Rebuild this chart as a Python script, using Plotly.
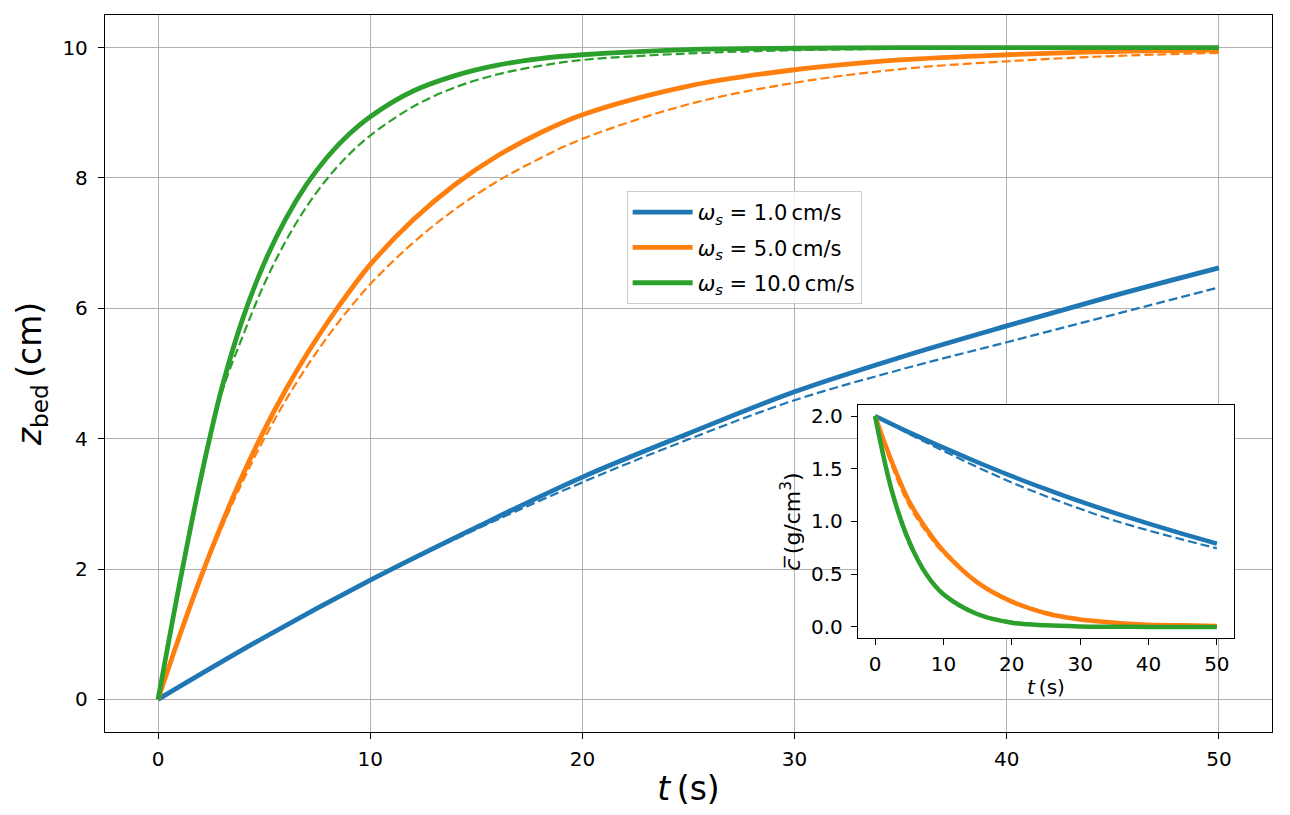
import plotly.graph_objects as go

# ---------------- data ----------------
speeds = [1.0, 5.0, 10.0]
colors = ["#1f77b4", "#ff7f0e", "#2ca02c"]

# main panel: bed height z_bed (cm) vs t (s)
t_blue = [0, 5, 10, 15, 20, 25, 30, 35, 40, 45, 50]
z_blue_solid = [0, 0.95, 1.83, 2.64, 3.41, 4.08, 4.72, 5.25, 5.73, 6.19, 6.62]
z_blue_dash = [0, 0.95, 1.82, 2.61, 3.33, 3.99, 4.59, 5.06, 5.48, 5.9, 6.32]

t_fast = [0, 1, 2, 3, 4, 5, 6, 7, 8, 9, 10, 12, 14, 16, 18, 20, 25, 30, 35, 40, 45, 50]
z_orange_solid = [0, 0.96, 1.86, 2.69, 3.45, 4.13, 4.74, 5.29, 5.79, 6.25, 6.67, 7.35, 7.9,
                  8.34, 8.69, 8.97, 9.41, 9.66, 9.81, 9.89, 9.94, 9.96]
z_orange_dash = [0, 0.95, 1.83, 2.63, 3.35, 4.0, 4.58, 5.1, 5.57, 5.99, 6.37, 7.0, 7.52,
                 7.95, 8.3, 8.6, 9.13, 9.46, 9.67, 9.79, 9.87, 9.92]
z_green_solid = [0, 1.75, 3.37, 4.77, 5.85, 6.69, 7.36, 7.9, 8.33, 8.67, 8.94, 9.33, 9.57,
                 9.73, 9.83, 9.89, 9.97, 9.99, 10.0, 10.0, 10.0, 10.0]
z_green_dash = [0, 1.72, 3.37, 4.7, 5.58, 6.37, 7.02, 7.56, 8.0, 8.36, 8.65, 9.09, 9.39,
                9.59, 9.72, 9.81, 9.91, 9.96, 9.98, 9.99, 10.0, 10.0]

# inset: mean concentration c (g/cm^3) vs t (s)
t_in = [0, 2.5, 5, 7.5, 10, 15, 20, 25, 30, 35, 40, 45, 50]
t_in_blue = [0, 5, 10, 15, 20, 25, 30, 35, 40, 45, 50]
c_blue_solid = [2.0, 1.845, 1.70, 1.562, 1.43, 1.307, 1.19, 1.082, 0.98, 0.883, 0.79]
c_blue_dash = [2.0, 1.83, 1.67, 1.515, 1.37, 1.24, 1.12, 1.01, 0.915, 0.828, 0.745]
c_orange_solid = [2.0, 1.56, 1.19, 0.93, 0.72, 0.42, 0.24, 0.13, 0.07, 0.04, 0.02, 0.015, 0.01]
c_orange_dash = [2.0, 1.52, 1.15, 0.9, 0.70, 0.42, 0.25, 0.14, 0.08, 0.045, 0.025, 0.015, 0.01]
c_green_solid = [2.0, 1.28, 0.81, 0.5, 0.31, 0.12, 0.04, 0.015, 0.005, 0.002, 0.0, 0.0, 0.0]
c_green_dash = [2.0, 1.26, 0.78, 0.5, 0.32, 0.13, 0.05, 0.02, 0.008, 0.003, 0.001, 0.0, 0.0]

x_ticks = [0, 10, 20, 30, 40, 50]
y_ticks = [0, 2, 4, 6, 8, 10]
inset_y_ticks = [0.0, 0.5, 1.0, 1.5, 2.0]

main_sets = [
    (t_blue, z_blue_solid, z_blue_dash),
    (t_fast, z_orange_solid, z_orange_dash),
    (t_fast, z_green_solid, z_green_dash),
]
inset_sets = [
    (t_in_blue, c_blue_solid, c_blue_dash),
    (t_in, c_orange_solid, c_orange_dash),
    (t_in, c_green_solid, c_green_dash),
]

FONT = "DejaVu Sans"
THIN = "\u2009"
fig = go.Figure()

for i, (ws, col, (tt, zs, zd)) in enumerate(zip(speeds, colors, main_sets)):
    fig.add_trace(go.Scatter(
        x=tt, y=zs, mode="lines", line=dict(color=col, width=4.8, shape="spline"),
        name=f"<i>ω</i><sub><i>s</i></sub> = {ws:.1f}{THIN}cm/s", showlegend=True,
        legendgroup=f"g{i}", xaxis="x", yaxis="y"))
    fig.add_trace(go.Scatter(
        x=tt, y=zd, mode="lines", line=dict(color=col, width=2.2, dash="9px,4px", shape="spline"),
        showlegend=False, legendgroup=f"g{i}", xaxis="x", yaxis="y"))

for col, (tt, cs, cd) in zip(colors, inset_sets):
    fig.add_trace(go.Scatter(
        x=tt, y=cs, mode="lines", line=dict(color=col, width=4.5, shape="spline"),
        showlegend=False, xaxis="x2", yaxis="y2"))
    fig.add_trace(go.Scatter(
        x=tt, y=cd, mode="lines", line=dict(color=col, width=2.2, dash="9px,4px", shape="spline"),
        showlegend=False, xaxis="x2", yaxis="y2"))

axis_common = dict(showline=True, linecolor="black", linewidth=1.3, mirror=True,
                   ticks="outside", ticklen=6, tickwidth=1.3, tickcolor="black",
                   zeroline=False, tickfont=dict(family=FONT, size=20, color="black"))

fig.update_layout(
    width=1290, height=815,
    margin=dict(l=105, r=18, t=15, b=83),
    paper_bgcolor="white", plot_bgcolor="white",
    font=dict(family=FONT, color="black"),
    xaxis=dict(domain=[0, 1], range=[-2.5, 52.5], tickvals=x_ticks,
               showgrid=True, gridcolor="#b0b0b0", gridwidth=1.2, ticklabelstandoff=3,
               title=dict(text=f"<i>t</i>{THIN}(s)", font=dict(family=FONT, size=33), standoff=6),
               **axis_common),
    yaxis=dict(domain=[0, 1], range=[-0.5, 10.5], tickvals=y_ticks,
               showgrid=True, gridcolor="#b0b0b0", gridwidth=1.2, ticklabelstandoff=6,
               title=dict(text=f"<i>z</i><sub>bed</sub>{THIN}(cm)", font=dict(family=FONT, size=33), standoff=10),
               **axis_common),
    xaxis2=dict(domain=[0.6452, 0.9674], anchor="y2", range=[-2.5, 52.5], tickvals=x_ticks,
                showgrid=False, ticklabelstandoff=2,
                title=dict(text=f"<i>t</i>{THIN}(s)", font=dict(family=FONT, size=20), standoff=4),
                **axis_common),
    yaxis2=dict(domain=[0.1311, 0.4561], anchor="x2", range=[-0.105, 2.105],
                tickvals=inset_y_ticks, ticktext=["0.0", "0.5", "1.0", "1.5", "2.0"],
                showgrid=False, ticklabelstandoff=4,
                title=dict(text=f"<i>c̅</i>{THIN}(g/cm<sup>3</sup>)", font=dict(family=FONT, size=22), standoff=4),
                **axis_common),
    legend=dict(x=0.447, y=0.7545, xanchor="left", yanchor="top",
                bgcolor="rgba(255,255,255,0.8)", bordercolor="#cccccc", borderwidth=1,
                font=dict(family=FONT, size=21), tracegroupgap=5, itemwidth=60),
)

fig.write_html("out.html")
